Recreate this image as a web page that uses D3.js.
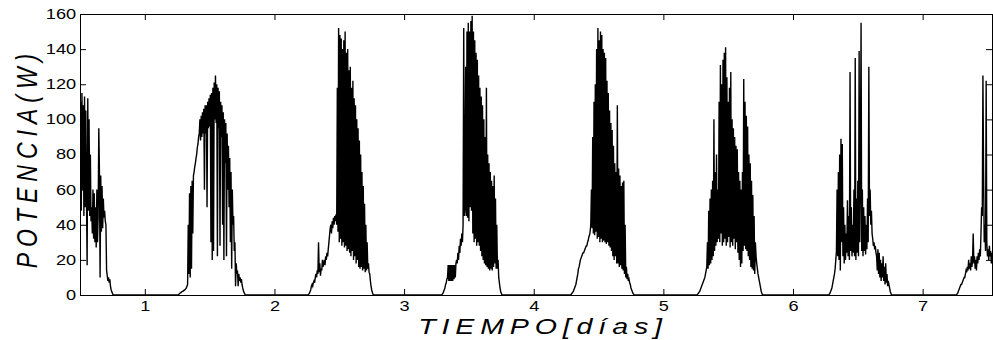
<!DOCTYPE html>
<html>
<head>
<meta charset="utf-8">
<script src="https://cdn.jsdelivr.net/npm/d3@7"></script>
<style>
  html, body { margin: 0; padding: 0; background: #fff; }
  svg { display: block; font-family: "Liberation Sans", Arial, sans-serif; }
</style>
</head>
<body>
<div id="chart"></div>
<script>
// sampling step of the power record, in days
const STEP = 0.005;

// first sample of each daylight segment (days)
const dayStart = [0.5, 1.255, 2.26, 3.29, 4.285, 5.26, 6.275, 7.26];

// power samples (W) for each daylight segment
const day0 = [25,110,48,115,60,108,45,113,50,105,55,17,112,48,100,45,80,42,50,35,60,32,58,30,50,27,60,30,45,95,70,10,68,36,62,38,55,44,48,42,40,14,11,8,10,7,9,5,3,2,1,0];
const day1 = [0,0.3,0.6,1,1.2,1.5,1.8,2,2.2,2.5,2.8,3,3.5,4,5,6,40,12,58,10,62,15,65,35,68,70,73,75,78,80,84,86,90,92,100,88,102,90,104,92,106,60,108,92,108,50,110,95,112,96,114,30,115,20,118,25,121,100,125,98,120,22,118,95,116,28,110,90,108,40,104,20,100,75,98,22,92,60,85,50,78,30,70,15,60,40,45,25,30,5,18,12,14,5,12,8,10,7,9,6,4,2.5,1.5,0.8,0];
const day2 = [0,0.5,1,2,3,5,6,5,7,8,7,10,12,10,14,12,30,13,18,11,15,14,20,16,18,20,17,22,20,24,22,26,30,34,38,40,35,42,38,44,40,45,42,46,40,118,36,152,30,148,32,146,28,140,30,145,27,150,28,138,25,140,26,128,24,130,22,118,25,122,20,112,22,108,18,100,20,95,16,88,15,80,16,70,14,62,15,52,13,40,14,30,15,18,13,12,8,5,3,1.5,0.5,0];
const day3 = [0,0.5,1,2,3,4,6,7,9,10,17,8,17,8,17,8,17,8,17,9,17,10,18,20,18,24,20,28,24,32,28,35,30,40,152,45,50,130,45,150,44,155,42,150,50,156,48,159,35,150,30,145,32,138,28,134,30,125,28,118,25,113,22,108,20,100,18,90,17,118,16,80,15,75,14,70,15,65,14,62,16,68,18,55,15,40,15,20,10,7,4,2,1,0];
const day4 = [0,0.5,1,1.5,2,3,4,5,6,8,10,12,15,16,18,20,21,22,23,24,24,25,26,27,28,28,30,31,33,34,36,40,60,38,90,35,110,34,120,36,140,32,152,33,145,30,150,32,148,30,140,31,138,30,135,29,122,30,115,28,105,27,98,25,94,22,85,20,75,22,70,18,108,18,72,16,68,17,62,15,64,14,65,12,40,10,16,9,12,8,9,7,6,4,3,2,1,0.5,0];
const day5 = [0,0.5,1,1.5,2,3,4,5,6,7,8,9,10,12,14,16,30,15,48,17,55,18,60,20,65,22,100,25,70,28,80,30,60,32,110,30,131,35,120,28,134,30,138,32,141,28,124,30,110,33,118,27,127,30,100,28,95,32,90,26,85,30,83,24,70,20,65,16,60,18,70,25,123,28,110,26,102,25,96,22,80,20,75,16,65,15,57,14,45,12,30,22,18,15,12,10,8,6,4,2,1,0];
const day6 = [0,0.5,1,2,3,4,6,8,10,12,15,20,25,60,22,70,20,80,14,89,30,86,22,50,18,40,20,35,24,54,22,45,20,127,25,50,22,40,24,60,22,135,20,55,24,65,22,139,30,70,155,25,60,22,50,25,45,23,40,26,55,30,130,45,60,40,48,35,32,28,30,26,28,24,22,14,26,12,24,10,20,8,18,10,22,8,16,6,18,7,12,5,8,6,4,2,1,0];
const day7 = [0,0.5,1,2,3,4,5,6,6,7,8,9,10,10,12,14,13,16,14,20,15,18,14,22,16,20,35,18,22,15,20,14,22,18,24,20,26,22,35,50,45,125,70,30,40,25,122,30,22,26,20,28,22,25,18,24];

const xTicks = [1, 2, 3, 4, 5, 6, 7];
const yTicks = [0, 20, 40, 60, 80, 100, 120, 140, 160];
const xDomain = [0.5, 7.535];
const yDomain = [0, 160];

const width = 993;
const height = 340;
const plot = { left: 80, right: 992, top: 14, bottom: 295 };
const tickLen = 6;
const stretch = 1.3; // the original figure is stretched horizontally

const days = [day0, day1, day2, day3, day4, day5, day6, day7];
const series = [];
days.forEach((vals, k) => {
  vals.forEach((v, i) => series.push({ t: dayStart[k] + i * STEP, v }));
});

const svg = d3.select('#chart')
  .append('svg')
  .attr('width', width)
  .attr('height', height);

const x = d3.scaleLinear().domain(xDomain).range([plot.left, plot.right]);
const y = d3.scaleLinear().domain(yDomain).range([plot.bottom, plot.top]);

svg.append('defs').append('clipPath')
  .attr('id', 'plot-clip')
  .append('rect')
  .attr('x', plot.left)
  .attr('y', plot.top)
  .attr('width', plot.right - plot.left + 1)
  .attr('height', plot.bottom - plot.top + 1);

// power trace
const line = d3.line()
  .x(d => x(d.t))
  .y(d => y(d.v));

svg.append('path')
  .datum(series)
  .attr('clip-path', 'url(#plot-clip)')
  .attr('fill', 'none')
  .attr('stroke', '#000')
  .attr('stroke-width', 1.4)
  .attr('stroke-linejoin', 'miter')
  .attr('d', line);

// inward ticks on all four sides (MATLAB style box)
const styleAxis = g => {
  g.select('.domain').remove();
  g.attr('font-family', '"Liberation Sans", Arial, sans-serif')
    .attr('font-size', 14)
    .attr('color', '#000');
  g.selectAll('text').attr('transform', `scale(${stretch},1)`);
};

svg.append('g')
  .attr('transform', `translate(0,${plot.bottom})`)
  .call(d3.axisBottom(x).tickValues(xTicks).tickFormat(d3.format('d'))
    .tickSize(-tickLen).tickSizeOuter(0).tickPadding(6))
  .call(styleAxis);

svg.append('g')
  .attr('transform', `translate(0,${plot.top})`)
  .call(d3.axisTop(x).tickValues(xTicks).tickSize(-tickLen).tickSizeOuter(0).tickFormat(''))
  .call(styleAxis);

svg.append('g')
  .attr('transform', `translate(${plot.left},0)`)
  .call(d3.axisLeft(y).tickValues(yTicks).tickFormat(d3.format('d'))
    .tickSize(-tickLen).tickSizeOuter(0).tickPadding(3))
  .call(styleAxis);

svg.append('g')
  .attr('transform', `translate(${plot.right},0)`)
  .call(d3.axisRight(y).tickValues(yTicks).tickSize(-tickLen).tickSizeOuter(0).tickFormat(''))
  .call(styleAxis);

// box
svg.append('rect')
  .attr('x', plot.left + 0.5)
  .attr('y', plot.top + 0.5)
  .attr('width', plot.right - plot.left)
  .attr('height', plot.bottom - plot.top)
  .attr('fill', 'none')
  .attr('stroke', '#000')
  .attr('stroke-width', 1);

// axis labels
svg.append('text')
  .attr('transform', `translate(543,334) scale(${stretch},1)`)
  .attr('text-anchor', 'middle')
  .attr('font-size', 22)
  .attr('font-style', 'italic')
  .attr('letter-spacing', 4.5)
  .attr('fill', '#000')
  .text('TIEMPO[días]');

svg.append('text')
  .attr('transform', `translate(37,158) scale(${stretch},1) rotate(-90)`)
  .attr('text-anchor', 'middle')
  .attr('font-size', 23)
  .attr('font-style', 'italic')
  .attr('letter-spacing', 6)
  .attr('fill', '#000')
  .text('POTENCIA(W)');
</script>
</body>
</html>
